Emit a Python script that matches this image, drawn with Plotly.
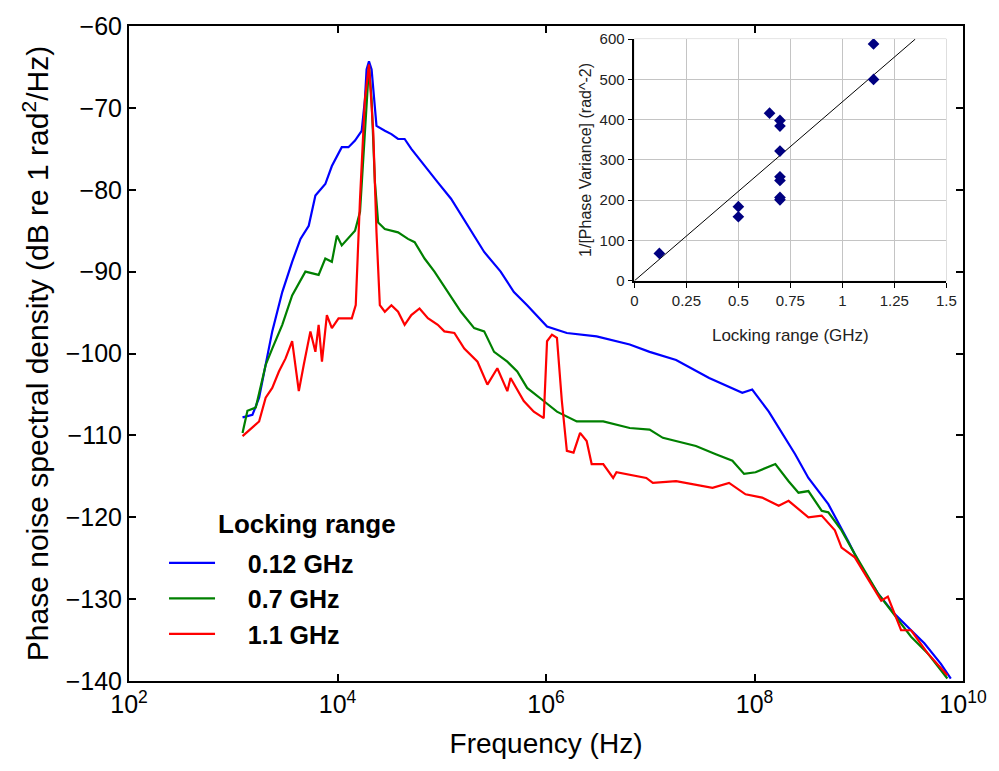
import plotly.graph_objects as go

# ---------------- main chart data (log10 frequency, dB) ----------------
blue_logf = [3.089, 3.184, 3.248, 3.311, 3.374, 3.47, 3.565, 3.645, 3.724, 3.788, 3.883, 3.946,
             3.978, 4.041, 4.105, 4.168, 4.232, 4.263, 4.279, 4.302, 4.327, 4.352, 4.374, 4.454,
             4.517, 4.581, 4.644, 4.708, 4.835, 4.962, 5.089, 5.248, 5.407, 5.565, 5.692, 5.819,
             6.01, 6.2, 6.486, 6.803, 6.994, 7.248, 7.565, 7.883, 7.978, 8.137, 8.39, 8.517,
             8.708, 8.898, 9.025, 9.184, 9.343, 9.502, 9.629, 9.788, 9.883]
blue_db = [-107.8, -107.5, -105.4, -101.4, -97.3, -92.5, -88.8, -86.0, -84.4, -80.7, -79.3, -77.1,
           -76.3, -74.8, -74.8, -74.0, -72.8, -69.0, -65.3, -64.3, -65.3, -69.0, -72.2, -72.8,
           -73.2, -73.8, -73.8, -75.0, -77.1, -79.1, -81.1, -84.4, -87.6, -90.0, -92.5, -94.1,
           -96.7, -97.5, -97.9, -98.9, -99.8, -100.8, -103.0, -104.8, -104.4, -107.1, -112.3, -115.2,
           -118.4, -122.9, -126.1, -129.3, -131.8, -133.8, -135.4, -137.9, -139.7]

green_logf = [3.089, 3.136, 3.216, 3.311, 3.374, 3.47, 3.565, 3.692, 3.819, 3.883, 3.946, 3.994,
              4.041, 4.168, 4.216, 4.263, 4.289, 4.302, 4.327, 4.359, 4.39, 4.454, 4.581, 4.676,
              4.74, 4.835, 4.93, 5.057, 5.184, 5.311, 5.407, 5.502, 5.629, 5.724, 5.819, 5.978,
              6.105, 6.295, 6.549, 6.803, 6.994, 7.121, 7.438, 7.629, 7.788, 7.9, 8.01, 8.2,
              8.327, 8.422, 8.517, 8.644, 8.708, 8.835, 8.962, 9.184, 9.343, 9.502, 9.66, 9.85]
green_db = [-109.7, -107.0, -106.6, -101.4, -99.4, -96.5, -92.9, -90.0, -90.4, -88.4, -88.8, -85.6,
            -86.8, -85.0, -82.7, -73.0, -66.9, -64.9, -69.0, -79.1, -84.0, -84.8, -85.2, -86.0,
            -86.4, -88.4, -90.0, -92.5, -94.9, -96.9, -97.3, -99.8, -101.0, -102.2, -104.2, -105.8,
            -107.1, -108.3, -108.3, -109.1, -109.3, -110.3, -111.3, -112.3, -113.1, -114.7, -114.5, -113.5,
            -115.6, -117.0, -116.8, -119.2, -119.4, -121.6, -124.5, -129.3, -132.0, -134.6, -136.6, -139.7]

red_logf = [3.089, 3.248, 3.311, 3.374, 3.438, 3.502, 3.565, 3.629, 3.676, 3.74, 3.788, 3.819,
            3.851, 3.898, 3.946, 4.01, 4.137, 4.175, 4.216, 4.263, 4.302, 4.343, 4.374, 4.406,
            4.454, 4.517, 4.581, 4.644, 4.708, 4.787, 4.867, 4.962, 5.025, 5.121, 5.216, 5.343,
            5.438, 5.533, 5.629, 5.66, 5.787, 5.883, 5.978, 5.994, 6.01, 6.057, 6.105, 6.152,
            6.2, 6.264, 6.327, 6.39, 6.438, 6.549, 6.644, 6.676, 6.962, 7.025, 7.248, 7.597,
            7.756, 7.914, 8.073, 8.232, 8.327, 8.517, 8.644, 8.771, 8.835, 8.962, 9.216, 9.279,
            9.406, 9.502, 9.66, 9.85]
red_db = [-110.1, -108.3, -105.4, -104.2, -102.2, -100.6, -98.5, -104.6, -101.4, -97.3, -99.8, -96.5,
          -101.0, -95.3, -96.9, -95.7, -95.7, -94.1, -81.1, -69.0, -64.7, -73.0, -85.2, -94.1,
          -94.9, -94.1, -94.9, -96.5, -95.3, -94.5, -95.7, -96.5, -97.3, -97.5, -99.4, -101.0,
          -103.8, -101.8, -104.6, -103.0, -105.8, -107.1, -107.9, -103.8, -98.5, -97.7, -98.1, -105.8,
          -111.9, -112.1, -109.7, -110.7, -113.5, -113.5, -115.2, -114.5, -115.2, -115.8, -115.6, -116.4,
          -115.8, -117.2, -117.6, -118.6, -118.0, -120.0, -119.8, -121.6, -123.7, -124.9, -130.2, -129.7,
          -133.8, -133.8, -136.6, -139.3]

series_names = ["0.12 GHz", "0.7 GHz", "1.1 GHz"]
series_colors = ["#0000FF", "#008000", "#FF0000"]
legend_title = "Locking range"

# ---------------- inset data ----------------
lock_range = [0.12, 0.5, 0.5, 0.65, 0.7, 0.7, 0.7, 0.7, 0.7, 0.7, 0.7, 1.15, 1.15]
inv_var = [68, 184, 159, 416, 398, 384, 322, 258, 249, 207, 201, 588, 500]

x_tickvals = [2, 4, 6, 8, 10]
x_ticktext = ["10<sup>2</sup>", "10<sup>4</sup>", "10<sup>6</sup>", "10<sup>8</sup>", "10<sup>10</sup>"]
inset_xticks = [0, 0.25, 0.5, 0.75, 1, 1.25, 1.5]
inset_xticktext = ["0", "0.25", "0.5", "0.75", "1", "1.25", "1.5"]

FONT = "Liberation Sans, Arial, sans-serif"
NB = "\u00a0"

fig = go.Figure()
for logf, db, name, col in zip([blue_logf, green_logf, red_logf], [blue_db, green_db, red_db],
                               series_names, series_colors):
    fig.add_trace(go.Scatter(
        x=[10 ** v for v in logf], y=db, mode="lines", name=NB * 4 + name,
        line=dict(color=col, width=2.2), xaxis="x", yaxis="y"))

# least-squares line through origin for inset
slope = sum(a * b for a, b in zip(lock_range, inv_var)) / sum(a * a for a in lock_range)
fit_x = [0, 600 / slope]
fit_y = [0, 600]
fig.add_trace(go.Scatter(x=fit_x, y=fit_y, mode="lines", line=dict(color="black", width=1),
                         showlegend=False, xaxis="x2", yaxis="y2"))
fig.add_trace(go.Scatter(x=lock_range, y=inv_var, mode="markers",
                         marker=dict(symbol="diamond", size=9, color="#000080"),
                         showlegend=False, xaxis="x2", yaxis="y2"))

fig.update_layout(
    width=999, height=771,
    margin=dict(l=129, r=30, t=23, b=90),
    paper_bgcolor="white", plot_bgcolor="white",
    font=dict(family=FONT, color="black"),
    showlegend=True,
    legend=dict(
        x=0.042, y=0.215, xanchor="left", yanchor="top",
        bgcolor="rgba(0,0,0,0)",
        font=dict(size=25, family=FONT, color="black", weight="bold"),
        itemwidth=46, tracegroupgap=0,
    ),
    annotations=[dict(text=legend_title, xref="paper", yref="paper", x=0.1048, y=0.240,
                      xanchor="left", yanchor="middle", showarrow=False,
                      font=dict(size=26, family=FONT, color="black", weight="bold"))],
    xaxis=dict(
        type="log", range=[2, 10], domain=[0, 1],
        tickmode="array", tickvals=[10 ** v for v in x_tickvals], ticktext=x_ticktext,
        ticks="inside", ticklen=7, tickwidth=1.5, tickcolor="black",
        showline=True, linecolor="black", linewidth=2, mirror="ticks",
        showgrid=False, zeroline=False,
        tickfont=dict(size=25, family=FONT),
        title=dict(text="Frequency (Hz)", font=dict(size=28, family=FONT), standoff=16),
    ),
    yaxis=dict(
        range=[-140, -60], domain=[0, 1], dtick=10,
        ticks="inside", ticklen=7, tickwidth=1.5, tickcolor="black",
        showline=True, linecolor="black", linewidth=2, mirror="ticks",
        showgrid=False, zeroline=False,
        tickfont=dict(size=25, family=FONT),
        title=dict(text="Phase noise spectral density (dB re 1 rad<sup>2</sup>/Hz)",
                   font=dict(size=30, family=FONT), standoff=8),
    ),
    xaxis2=dict(
        domain=[0.606, 0.980], anchor="y2", range=[0, 1.5],
        tickmode="array", tickvals=inset_xticks, ticktext=inset_xticktext,
        showgrid=True, gridcolor="#c4c4c4", gridwidth=1, zeroline=False,
        showline=True, linecolor="black", linewidth=1.5,
        ticks="outside", ticklen=5, tickcolor="black",
        tickfont=dict(size=15, family=FONT, color="#222222"),
        title=dict(text="Locking range (GHz)", font=dict(size=17, family=FONT, color="#222222"),
                   standoff=22),
    ),
    yaxis2=dict(
        domain=[0.611, 0.980], anchor="x2", range=[0, 600], dtick=100,
        showgrid=True, gridcolor="#c4c4c4", gridwidth=1, zeroline=False,
        showline=True, linecolor="black", linewidth=1.5,
        ticks="outside", ticklen=5, tickcolor="black",
        tickfont=dict(size=15, family=FONT, color="#222222"),
        title=dict(text="1/[Phase Variance] (rad^-2)", font=dict(size=16, family=FONT, color="#222222"),
                   standoff=4),
    ),
    shapes=[dict(type="rect", xref="x2 domain", yref="y2 domain", x0=0, y0=0, x1=1, y1=1,
                 line=dict(color="#c4c4c4", width=1), layer="below")],
)

fig.write_html("out.html")
